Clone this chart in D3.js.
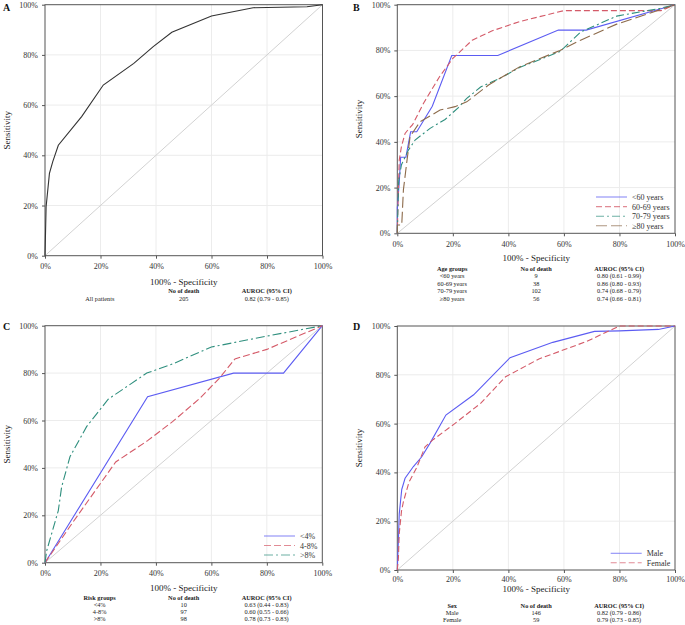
<!DOCTYPE html>
<html><head><meta charset="utf-8">
<script src="https://cdn.jsdelivr.net/npm/d3@7"></script>
<style>body{margin:0;background:#fff}svg{display:block}text{font-family:"Liberation Serif","Times New Roman",serif}</style>
</head><body>
<svg id="c" width="685" height="625"></svg>
<script>
// ---------- data ----------
const tickValues = [0, 20, 40, 60, 80, 100];
const tickLabels = ["0%", "20%", "40%", "60%", "80%", "100%"];
const xTitle = "100% - Specificity";
const yTitle = "Sensitivity";

// Panel A
const rocAll = [[0,0],[0.4,19.5],[1.6,32.8],[2.8,37.5],[4.8,44],[13.2,55.4],[21,68],[32,76.6],[39,83.3],[45.7,89],[60,95.5],[75,98.8],[94.4,99.2],[100,100]];
const tableAHeader = ["", "No of death", "AUROC (95% CI)"];
const tableARows = [["All patients", "205", "0.82 (0.79 - 0.85)"]];

// Panel B
const ageGroups = ["<60 years", "60-69 years", "70-79 years", "≥80 years"];
const rocLt60 = [[0,0],[0,11.1],[0.7,22.2],[1.2,33.3],[3.1,33.3],[4.8,44.4],[7,44.4],[12.6,55.6],[19.6,77.8],[36.2,77.8],[58,88.9],[68,88.9],[100,100]];
const roc6069 = [[0,0],[0.3,15],[0.7,32],[1.5,38],[2.8,43.7],[4,45.5],[5.5,47.5],[9.5,57],[15.2,68.5],[20,76.5],[27,84.5],[34,88.5],[44,92.6],[60,97.4],[95,97.4],[100,100]];
const roc7079 = [[0,0],[0.2,10],[0.5,23],[1.5,30],[4,36.4],[6.4,40.8],[11.8,45.9],[17.2,49.8],[22,55],[25,59],[30,64],[37,67.8],[44,72.5],[58.6,79.5],[66,88],[79,95],[94.6,98.4],[100,100]];
const roc80 = [[0,0],[0,3.6],[1.6,3.6],[2.2,19],[3.4,31],[4.6,42.3],[8.2,48.8],[15.4,53.9],[20.8,55.4],[25,57.5],[33,65],[44,72.8],[58.6,80],[66,84.5],[79,91.5],[100,100]];
const tableBHeader = ["Age groups", "No of death", "AUROC (95% CI)"];
const tableBRows = [["<60 years","9","0.80 (0.61 - 0.99)"],["60-69 years","38","0.86 (0.80 - 0.93)"],["70-79 years","102","0.74 (0.68 - 0.79)"],["≥80 years","56","0.74 (0.66 - 0.81)"]];

// Panel C
const riskGroups = ["<4%", "4-8%", ">8%"];
const rocRiskLow = [[0,0],[37,70],[68,80],[86,80],[100,100]];
const rocRiskMid = [[0,0],[10,17],[25.5,42.5],[37,51.5],[46,59.5],[56,69.5],[63,78],[68.5,86],[80,90],[90,95],[100,100]];
const rocRiskHigh = [[0,0],[0.6,5],[4.8,22],[6,32],[9,44.7],[15,57.4],[22.8,69],[36.7,80],[46.3,84],[60,91],[80,95.6],[100,100]];
const tableCHeader = ["Risk groups", "No of death", "AUROC (95% CI)"];
const tableCRows = [["<4%","10","0.63 (0.44 - 0.83)"],["4-8%","97","0.60 (0.55 - 0.66)"],[">8%","98","0.78 (0.73 - 0.83)"]];

// Panel D
const sexGroups = ["Male", "Female"];
const rocMale = [[0,0],[0.4,12],[0.7,23],[1.6,33],[2.8,37.6],[5.8,42.4],[8.8,46.4],[11.8,52],[17.5,63.5],[27.5,71.8],[40.6,87],[56,93.3],[71,97.8],[80,98],[94,98.6],[100,100]];
const rocFemale = [[0,0],[0.4,5],[0.7,15],[1.5,24],[2.2,28],[4.2,36],[7,42],[10,50.5],[13,53.5],[20,59.4],[30,68.3],[39,79.2],[51,86.5],[68,93.6],[80,100],[100,100]];
const tableDHeader = ["Sex", "No of death", "AUROC (95% CI)"];
const tableDRows = [["Male","146","0.82 (0.79 - 0.86)"],["Female","59","0.79 (0.73 - 0.85)"]];

// ---------- styles ----------
const BLUE = "#5c5cf2", RED = "#d45a68", TEAL = "#2f8f7e", BROWN = "#8c6a4a", BLACK = "#333";

const svg = d3.select("#c");

function panel(o) {
  const g = svg.append("g");
  const x = d3.scaleLinear().domain([0,100]).range([o.x0, o.x1]);
  const y = d3.scaleLinear().domain([0,100]).range([o.y0, o.y1]);
  // grid
  g.selectAll(".gx").data(tickValues.slice(1,-1)).join("line")
    .attr("x1", d=>x(d)).attr("x2", d=>x(d)).attr("y1", y(0)).attr("y2", y(100))
    .attr("stroke", "#ececec").attr("stroke-width", 1);
  g.selectAll(".gy").data(tickValues.slice(1,-1)).join("line")
    .attr("y1", d=>y(d)).attr("y2", d=>y(d)).attr("x1", x(0)).attr("x2", x(100))
    .attr("stroke", "#ececec").attr("stroke-width", 1);
  // diagonal
  g.append("line").attr("x1", x(0)).attr("y1", y(0)).attr("x2", x(100)).attr("y2", y(100))
    .attr("stroke", "#d2d2d2").attr("stroke-width", 1);
  // axes
  const fmt = (d,i) => tickLabels[i];
  const ax = g.append("g").attr("transform", `translate(0,${y(0)})`)
    .call(d3.axisBottom(x).tickValues(tickValues).tickFormat(fmt).tickSize(3).tickPadding(o.xpad || 5).tickSizeOuter(0));
  const ay = g.append("g").attr("transform", `translate(${x(0)},0)`)
    .call(d3.axisLeft(y).tickValues(tickValues).tickFormat(fmt).tickSize(3).tickPadding(4).tickSizeOuter(0));
  [ax, ay].forEach(a => {
    a.select(".domain").remove();
    a.selectAll("line").attr("stroke", "#555");
    a.selectAll("text").attr("font-size", 8).attr("fill", "#333")
      .attr("font-family", '"Liberation Serif", serif');
  });
  // frame
  g.append("rect").attr("x", x(0)).attr("y", y(100)).attr("width", x(100)-x(0)).attr("height", y(0)-y(100))
    .attr("fill", "none").attr("stroke", "#555").attr("stroke-width", 1);
  // curves
  const line = d3.line().x(d=>x(d[0])).y(d=>y(d[1]));
  o.series.forEach(s => {
    g.append("path").datum(s.data).attr("d", line).attr("fill", "none")
      .attr("stroke", s.color).attr("stroke-width", 1.1)
      .attr("stroke-dasharray", s.dash || null);
  });
  // legend
  if (o.legend) {
    o.series.forEach((s, i) => {
      const ly = o.legend.y + i * o.legend.dy;
      g.append("line").attr("x1", o.legend.x).attr("x2", o.legend.x + 31).attr("y1", ly).attr("y2", ly)
        .attr("stroke", s.color).attr("stroke-opacity", 0.7).attr("stroke-width", 1.1)
        .attr("stroke-dasharray", s.dash || null);
      g.append("text").attr("x", o.legend.x + 36).attr("y", ly + 3).attr("font-size", 8).attr("fill", "#333").text(s.name);
    });
  }
  // labels
  g.append("text").attr("x", o.lx).attr("y", o.ly).attr("font-size", 10).attr("font-weight", "bold").attr("fill", "#111").text(o.label);
  g.append("text").attr("transform", `translate(${o.ytx},${(y(0)+y(100))/2}) rotate(-90)`)
    .attr("text-anchor", "middle").attr("font-size", 9).attr("fill", "#222").text(yTitle);
  const cx = (x(0)+x(100))/2;
  g.append("text").attr("x", cx).attr("y", o.xty).attr("text-anchor", "middle").attr("font-size", 9).attr("fill", "#222").text(xTitle);
  // table
  const cols = [cx - 84, cx, cx + 83];
  o.header.forEach((h, j) => {
    g.append("text").attr("x", cols[j]).attr("y", o.ty).attr("text-anchor", "middle")
      .attr("font-size", 6.3).attr("font-weight", "bold").attr("fill", "#222").text(h);
  });
  o.rows.forEach((r, i) => {
    r.forEach((v, j) => {
      g.append("text").attr("x", cols[j]).attr("y", o.ty + (i+1) * o.tdy).attr("text-anchor", "middle")
        .attr("font-size", 6.3).attr("fill", "#222").text(v);
    });
  });
}

panel({x0:45, x1:322.5, y0:255.7, y1:4.7, label:"A", lx:3, ly:11, ytx:9.5, xty:285,
  series:[{name:"All patients", data:rocAll, color:BLACK}],
  header:tableAHeader, rows:tableARows, ty:293, tdy:7.5});

panel({x0:397.3, x1:675, y0:233.3, y1:4.7, label:"B", lx:353, ly:11, ytx:361.5, xty:261,
  series:[{name:ageGroups[0], data:rocLt60, color:BLUE},
          {name:ageGroups[1], data:roc6069, color:RED, dash:"6,3"},
          {name:ageGroups[2], data:roc7079, color:TEAL, dash:"8,3,2,3"},
          {name:ageGroups[3], data:roc80, color:BROWN, dash:"11,4"}],
  legend:{x:596, y:197, dy:9.6},
  header:tableBHeader, rows:tableBRows, ty:270.5, tdy:7.5});

panel({x0:45, x1:322.3, y0:562.7, y1:325.7, label:"C", lx:3, ly:330, ytx:9.5, xty:591,
  series:[{name:riskGroups[0], data:rocRiskLow, color:BLUE},
          {name:riskGroups[1], data:rocRiskMid, color:RED, dash:"7,3"},
          {name:riskGroups[2], data:rocRiskHigh, color:TEAL, dash:"9,3,2,3"}],
  legend:{x:264, y:536, dy:9.5},
  header:tableCHeader, rows:tableCRows, ty:599.5, tdy:7.3});

panel({x0:397.3, x1:675, y0:570, y1:326, label:"D", lx:353, ly:330, ytx:361.5, xty:591.5, xpad:3.5,
  series:[{name:sexGroups[0], data:rocMale, color:BLUE},
          {name:sexGroups[1], data:rocFemale, color:RED, dash:"6,3"}],
  legend:{x:610.7, y:553.3, dy:9.4},
  header:tableDHeader, rows:tableDRows, ty:607.5, tdy:7.3});
</script>
</body></html>
